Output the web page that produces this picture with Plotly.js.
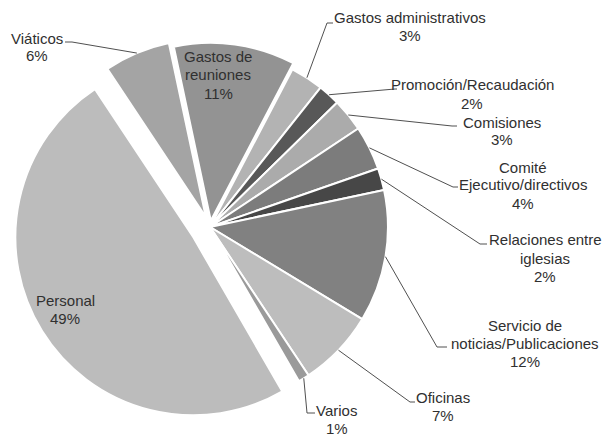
<!DOCTYPE html>
<html><head><meta charset="utf-8">
<script src="https://cdn.plot.ly/plotly-3.0.1.min.js"></script>
<style>html,body{margin:0;padding:0;background:#fff}#chart{width:602px;height:440px}</style>
</head><body><div id="chart"></div>
<script>
// ---- data ----
const categories = ["Gastos de reuniones","Gastos administrativos","Promoción/Recaudación","Comisiones","Comité Ejecutivo/directivos","Relaciones entre iglesias","Servicio de noticias/Publicaciones","Oficinas","Varios","Personal","Viáticos"];
const values = [11,3,2,3,4,2,12,7,1,49,6];
const labelLines = [["Gastos de","reuniones"],["Gastos administrativos"],["Promoción/Recaudación"],["Comisiones"],["Comité","Ejecutivo/directivos"],["Relaciones entre","iglesias"],["Servicio de","noticias/Publicaciones"],["Oficinas"],["Varios"],["Personal"],["Viáticos"]];

// ---- styles / layout ----
const sliceColors = ["#939393","#b3b3b3","#585858","#ababab","#7c7c7c","#474747","#818181","#bdbdbd","#9a9a9a","#bcbcbc","#a4a4a4"];
const pulls = [0.035,0,0,0,0,0,0,0,0,0.11,0.06];
const W = 602, H = 440;
const rotation = -12;
const domX = [0.0206, 0.6770], domY = [0.0351, 0.9331];
const labelX = [218,410,472,502,523,545,525,443,337,65,37];
const labelY = [57,18,85,122,167,240,325,397,410,300,38];
const lineGap = 18;
const elbows = [null,[327,23],[395,89],[452,126],[453,187],[480,244],[437,347],[410,402],[307,413],null,[72,42]];
const edges  = [null,[333,23],[397,89],[457,126],[458,187],[487,244],[447,347],[415,402],[315,413],null,[65,42]];

// geometry mirroring plotly's pie scaling
const maxPull = Math.max(...pulls);
const availW = W*(domX[1]-domX[0]), availH = H*(domY[1]-domY[0]);
const R = Math.min(availW, availH)/2/(1+maxPull);
const cx = W*(domX[0]+domX[1])/2, cy = H*(1-domY[0]) - availH/2;
const total = values.reduce((a,b)=>a+b,0);
let acc = rotation;
const mids = values.map(v => { const s = acc; acc += 360*v/total; return (s+acc)/2; });
function slicePoint(i){
  const a = mids[i]*Math.PI/180, rr = R*(1+pulls[i]);
  return [cx + rr*Math.sin(a), cy - rr*Math.cos(a)];
}
const px = x => x/W, py = y => 1 - y/H;

const annotations = [];
const shapes = [];
categories.forEach((c,i) => {
  const lines = labelLines[i].concat([values[i] + "%"]);
  lines.forEach((t,j) => {
    annotations.push({
      xref:"paper", yref:"paper", x:px(labelX[i]), y:py(labelY[i]+j*lineGap),
      xanchor:"center", yanchor:"middle", showarrow:false, text:t, borderpad:0,
      font:{family:"Liberation Sans, Arial, sans-serif", size:15, color:"#303030"}
    });
  });
  if (elbows[i]) {
    const s = slicePoint(i), e = elbows[i], d = edges[i];
    shapes.push({
      type:"path", xref:"paper", yref:"paper",
      path:`M ${px(s[0])} ${py(s[1])} L ${px(e[0])} ${py(e[1])} L ${px(d[0])} ${py(d[1])}`,
      line:{color:"#505050", width:1}
    });
  }
});

const trace = {
  type:"pie", labels:categories, values:values, sort:false, direction:"clockwise",
  rotation:rotation, pull:pulls, textinfo:"none", hoverinfo:"label+percent",
  marker:{colors:sliceColors, line:{color:"#ffffff", width:2}},
  domain:{x:domX, y:domY}
};
const layout = {
  width:W, height:H, margin:{l:0,r:0,t:0,b:0}, showlegend:false,
  paper_bgcolor:"#ffffff", plot_bgcolor:"#ffffff",
  annotations:annotations, shapes:shapes
};
Plotly.newPlot("chart", [trace], layout, {displayModeBar:false, staticPlot:true});
</script></body></html>
